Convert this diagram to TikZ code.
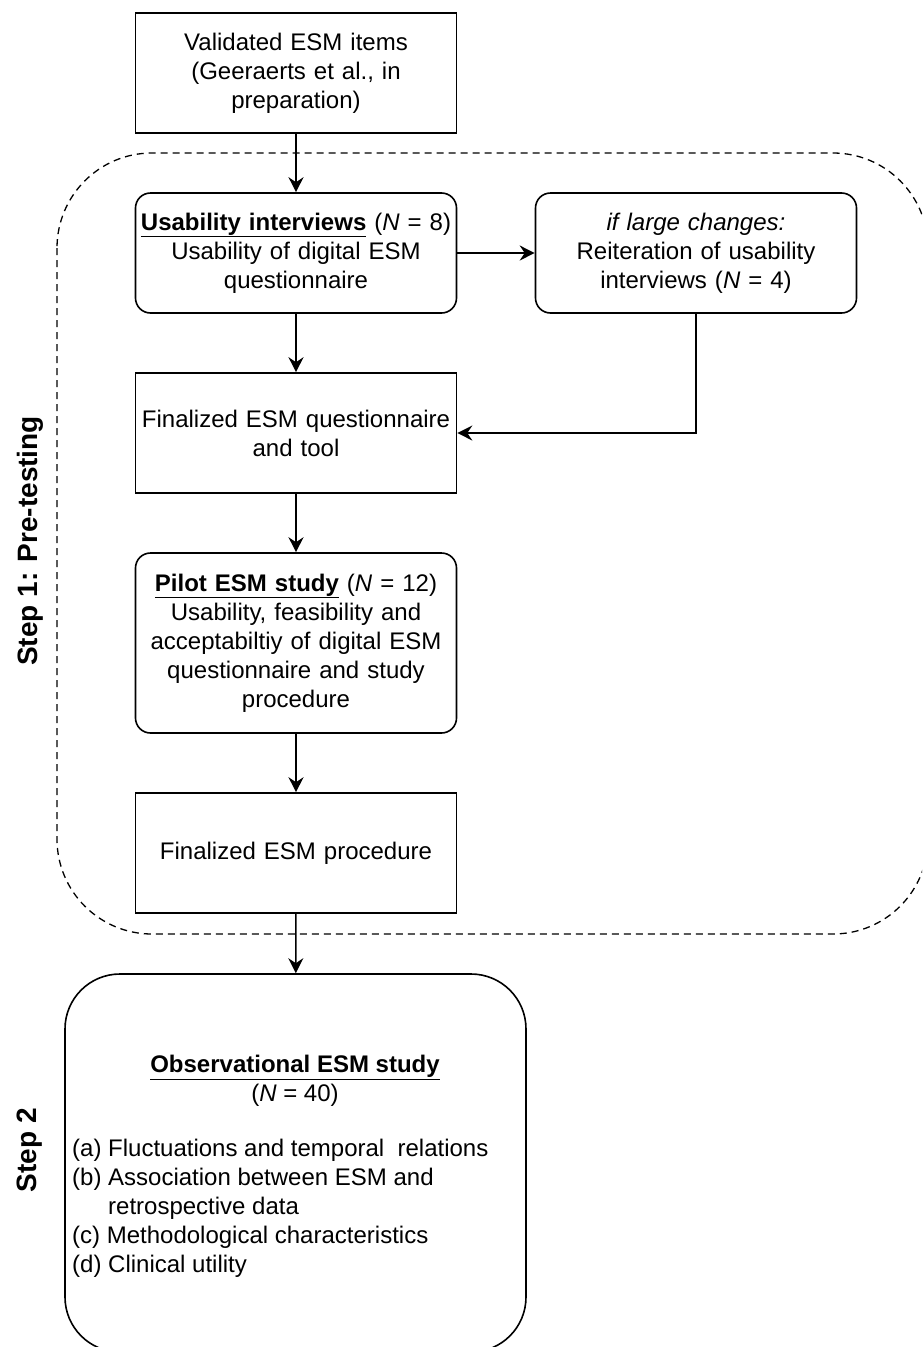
\documentclass[tikz,border=0pt]{standalone}
\usepackage{fontspec}
\setmainfont{Liberation Sans}
\usetikzlibrary{positioning,arrows.meta}

\begin{document}
\begin{tikzpicture}[x=1pt,y=-1pt,
    font=\fontsize{24}{29}\selectfont,
    box/.style={draw, line width=1.6pt, minimum width=321pt, minimum height=120pt,
                text width=315pt, align=center, inner sep=0pt},
    roundbox/.style={box, rounded corners=15pt},
    flow/.style={line width=1.6pt, -{Stealth[length=15pt,width=15pt,inset=5pt]}},
    steplabel/.style={font=\fontsize{28}{34}\selectfont\bfseries, rotate=90}]
            \useasboundingbox (0,0) rectangle (922,1347);
            \clip (0,0) rectangle (922,1347);

            % Pre-testing frame
            \draw[dashed, dash pattern=on 7pt off 5pt, line width=1.3pt, rounded corners=95pt]
                (57,153) rectangle (928,934);
            \node[steplabel] (step1) at (30,541) {Step 1: Pre-testing};
            \node[steplabel] (step2) at (30,1150) {Step 2};

            % Step 1 boxes
            \node[box] (items) at (296,73) {Validated ESM items\\(Geeraerts et al., in\\preparation)};
            \node[roundbox] (usab) at (296,253)
                {\underline{\textbf{Usability interviews}} (\textit{N} = 8)\\Usability of digital ESM\\questionnaire};
            \node[roundbox] (reit) at (696,253)
                {\textit{if large changes:}\\Reiteration of usability\\interviews (\textit{N} = 4)};
            \node[box] (fquest) at (296,433) {Finalized ESM questionnaire\\and tool};
            \node[roundbox, minimum height=180pt] (pilot) at (296,643)
                {\underline{\textbf{Pilot ESM study}} (\textit{N} = 12)\\Usability, feasibility and\\acceptabiltiy of digital ESM\\questionnaire and study\\procedure};
            \node[box] (fproc) at (296,853) {Finalized ESM procedure};

            % Step 2 box
            \node[roundbox, rounded corners=55pt, minimum width=461pt, minimum height=378pt] (obs) at (295.5,1163) {};
            \node[align=center] (obstitle) at (295,1081)
                {\underline{\textbf{Observational ESM study}}\\(\textit{N} = 40)};
            \node[anchor=west, align=left, inner sep=0pt] (obslist) at (72,1208)
                {(a) Fluctuations and temporal\ \ relations\\
                 (b) Association between ESM and\\
                 \hphantom{(b)}\ retrospective data\\
                 (c) Methodological characteristics\\
                 (d) Clinical utility};

            % Connectors
            \draw[flow] (items) -- (usab);
            \draw[flow] (usab) -- (reit);
            \draw[flow] (usab) -- (fquest);
            \draw[flow] (reit.south) |- (fquest.east);
            \draw[flow] (fquest) -- (pilot);
            \draw[flow] (pilot) -- (fproc);
            \draw[flow] (fproc) -- (obs);
        \end{tikzpicture}
\end{document}
